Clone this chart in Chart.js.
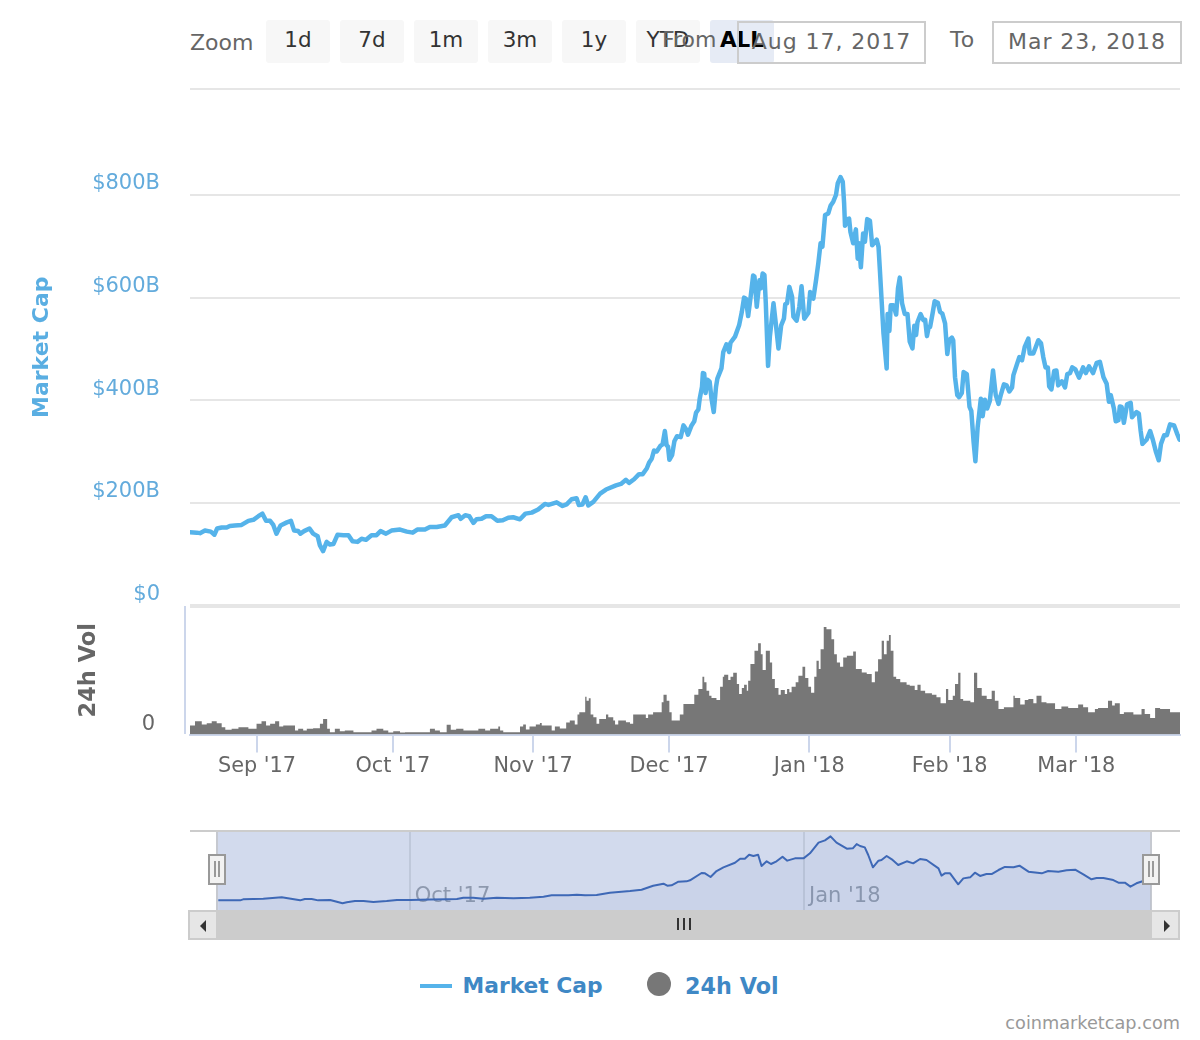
<!DOCTYPE html>
<html>
<head>
<meta charset="utf-8">
<title>Market Cap</title>
<script src="https://cdn.jsdelivr.net/npm/chart.js@4/dist/chart.umd.js"></script>
<style>
html, body { margin: 0; padding: 0; background: #fff; overflow: hidden; }
body { width: 1200px; height: 1040px; position: relative; font-family: "DejaVu Sans", sans-serif; }
canvas, .abs { position: absolute; }
.btn { top: 20px; width: 64px; height: 43px; line-height: 40px; background: #f7f7f7; border-radius: 3px; text-align: center; color: #333; font-size: 21.5px; }
.lbl { color: #666; font-size: 22px; white-space: nowrap; }
.box { top: 21px; height: 39px; border: 2px solid #ccc; line-height: 37px; color: #666; font-size: 22px; letter-spacing: 0.95px; text-align: center; }
</style>
</head>
<body>
<div class="abs lbl" style="left:190px;top:30px">Zoom</div>
<div class="abs btn" style="left:266px">1d</div>
<div class="abs btn" style="left:340px">7d</div>
<div class="abs btn" style="left:414px">1m</div>
<div class="abs btn" style="left:488px">3m</div>
<div class="abs btn" style="left:562px">1y</div>
<div class="abs btn" style="left:636px">YTD</div>
<div class="abs btn" style="left:710px;background:#e6ebf5;color:#000;font-weight:bold">ALL</div>
<div class="abs lbl" style="left:662px;top:27px">From</div>
<div class="abs box" style="left:737px;width:185px">Aug 17, 2017</div>
<div class="abs lbl" style="left:950px;top:27px;letter-spacing:1px">To</div>
<div class="abs box" style="left:992px;width:186px">Mar 23, 2018</div>

<canvas id="cap-chart" width="1200" height="540" style="left:0;top:80px"></canvas>
<div class="abs" style="left:184px;top:606px;width:2px;height:128px;background:#ccd6eb"></div>
<canvas id="vol-chart" width="1200" height="190" style="left:0;top:600px"></canvas>

<div class="abs" style="left:190px;top:830px;width:990px;height:2px;background:#ccc"></div>
<div class="abs" style="left:217px;top:832px;width:934px;height:78px;background:#d2daed"></div>
<div class="abs" style="left:216px;top:832px;width:2px;height:78px;background:#c6c9d0"></div>
<div class="abs" style="left:1150px;top:832px;width:2px;height:78px;background:#c6c9d0"></div>
<canvas id="nav-chart" width="1200" height="95" style="left:0;top:825px"></canvas>
<div class="abs" style="left:208px;top:854px;width:14px;height:27px;background:#f2f2f2;border:2px solid #999"></div>
<div class="abs" style="left:214px;top:861px;width:2px;height:16px;background:#999"></div>
<div class="abs" style="left:218px;top:861px;width:2px;height:16px;background:#999"></div>
<div class="abs" style="left:1142px;top:854px;width:14px;height:27px;background:#f2f2f2;border:2px solid #999"></div>
<div class="abs" style="left:1148px;top:861px;width:2px;height:16px;background:#999"></div>
<div class="abs" style="left:1152px;top:861px;width:2px;height:16px;background:#999"></div>

<div class="abs" style="left:188px;top:910px;width:992px;height:30px;background:#ccc"></div>
<div class="abs" style="left:190px;top:912px;width:26px;height:26px;background:#e6e6e6"></div>
<div class="abs" style="left:1152px;top:912px;width:26px;height:26px;background:#e6e6e6"></div>
<div class="abs" style="left:200px;top:920px;width:0;height:0;border-top:6px solid transparent;border-bottom:6px solid transparent;border-right:6px solid #333"></div>
<div class="abs" style="left:1164px;top:920px;width:0;height:0;border-top:6px solid transparent;border-bottom:6px solid transparent;border-left:6px solid #333"></div>
<div class="abs" style="left:677px;top:918px;width:2px;height:12px;background:#333"></div>
<div class="abs" style="left:683px;top:918px;width:2px;height:12px;background:#333"></div>
<div class="abs" style="left:689px;top:918px;width:2px;height:12px;background:#333"></div>

<div class="abs" style="left:420px;top:984px;width:32px;height:4px;background:#55b3ea"></div>
<div class="abs" style="left:462.5px;top:973px;font-size:21.8px;font-weight:bold;color:#3f88c5;white-space:nowrap">Market Cap</div>
<div class="abs" style="left:647px;top:972px;width:24px;height:24px;border-radius:12px;background:#777"></div>
<div class="abs" style="left:685px;top:973px;font-size:22.3px;font-weight:bold;color:#3f88c5;white-space:nowrap">24h Vol</div>
<div class="abs" style="right:20px;top:1013px;font-size:17.7px;color:#999;white-space:nowrap">coinmarketcap.com</div>

<script>
// days counted from Aug 17 2017, market cap in $B
var capDays = [
    0.2,1.7,2.4,3.5,4.8,5.6,6.2,7.2,8.3,9.0,
    10.1,11.6,13.1,14.2,15.3,16.2,17,17.9,18.6,19.3,
    20.2,21.6,22.5,23.2,24.1,24.6,25.4,26.6,27.4,28.4,
    28.9,29.6,30.4,31.1,31.9,32.8,34.1,35.2,36.1,37.2,
    38.1,39.1,40.3,41.4,42.3,43.5,44.7,46.6,48.1,49.4,
    50.4,52.1,53.2,54.7,56.5,58,59.5,60,61,61.9,
    62.8,63.5,64.6,65.6,66.8,68.1,69.3,70.5,71.6,73.1,
    74.3,75.7,77.1,78.6,79.4,81.2,82.5,83.4,84.5,85.6,
    86.1,86.9,87.6,88.2,89.3,90.8,92.1,94.3,95.4,96.5,
    97.2,98.3,99.4,100.2,101.1,101.6,102.2,102.7,103.3,104.1,
    104.6,105.1,105.5,105.8,106.1,106.7,107.2,107.8,108.6,109.2,
    109.7,110.2,111,111.6,112,112.5,112.8,113.3,113.5,113.8,
    114.1,114.5,115,115.4,115.9,116.4,116.7,117.6,118,118.7,
    119.3,119.6,120.6,121.5,122.1,122.6,123,123.5,124.1,124.6,
    124.9,125.4,126,126.3,126.7,127.1,127.4,127.9,128.3,129.1,
    129.6,130.2,130.8,131.4,131.7,132.1,132.6,133.2,133.5,134.2,
    134.8,135.3,135.9,136.8,137.2,137.9,138.5,139,139.5,139.9,
    140.5,141.2,141.7,142.3,142.9,143.3,143.9,144.4,144.7,144.9,
    145.4,145.8,146.1,146.7,147.3,147.7,148,148.4,148.9,149.3,
    149.8,150.4,150.9,151.9,152.3,152.6,153.4,154.1,154.3,154.7,
    155,155.6,156.2,156.6,157,157.5,158.1,158.7,159.2,159.8,
    160.2,160.6,160.9,161.6,162.2,162.6,163,163.4,163.7,164.3,
    164.7,165.4,165.9,166.4,167,167.5,167.9,168.5,168.8,169.2,
    169.7,170.1,170.7,171.1,171.8,172.4,172.8,173.3,173.7,174.2,
    174.5,174.9,175.3,175.8,176.3,176.9,177.6,178.2,178.8,179.3,
    180,180.6,181.2,181.8,182.1,182.8,183.4,184,184.6,185.4,
    185.7,186.5,187.6,188.2,188.7,189.2,189.7,190,190.5,191.1,
    191.6,192,192.8,193.5,194,194.6,195.1,195.8,196.6,197.5,
    198.1,198.8,199.7,200.5,201.2,202,202.7,203.2,203.6,204.3,
    204.7,205.3,205.6,206,206.5,207.2,208,208.3,209.3,209.8,
    210.2,210.6,211.5,212.3,212.9,213.6,214.2,214.7,215.4,216,
    216.7,217.6,218.3,218.8
];
var capValues = [
    143,142,141,146,144,138,150,152,152,155,
    156,157,165,167,174,179,165,165,157,140,
    156,162,165,146,145,140,145,150,140,135,
    117,106,124,119,120,138,137,137,125,124,
    130,128,137,137,145,140,146,148,144,142,
    148,148,153,153,156,172,176,169,176,174,
    161,168,169,174,174,165,166,171,172,168,
    179,181,187,198,196,201,194,197,207,209,
    196,197,211,195,202,218,226,234,237,245,
    239,246,256,256,267,278,286,302,300,311,
    314,340,312,310,284,293,320,330,328,351,
    345,333,351,359,376,382,403,426,453,452,
    414,440,436,403,377,426,442,462,494,509,
    494,512,524,546,572,600,598,564,605,643,
    641,582,634,618,647,644,589,467,524,589,
    550,501,546,559,587,589,621,602,563,555,
    582,622,559,570,611,598,634,667,706,699,
    761,764,779,787,800,823,835,826,784,740,
    753,754,728,706,733,676,706,659,725,709,
    753,750,702,713,699,654,530,462,568,535,
    585,585,567,618,639,589,568,568,514,501,
    545,527,552,568,556,557,525,543,543,572,
    593,590,572,569,550,490,517,522,517,445,
    410,406,414,455,451,387,379,319,281,348,
    371,403,369,401,384,399,458,410,393,410,
    431,429,417,425,449,468,484,478,504,520,
    491,491,517,511,484,464,464,427,421,457,
    458,429,437,425,451,453,464,460,444,464,
    453,466,453,473,475,445,432,397,410,384,
    359,361,388,387,356,392,395,367,377,374,
    341,315,323,340,323,299,283,315,332,332,
    353,351,334,323
];

// 24h volume in $B, each level starts at its day
var volDays = [
    0.2,1.3,2.8,3.9,5,6.1,7.2,8,9.4,10.9,
    13.1,14.9,16,17,17.9,19,19.9,20.8,23.4,24.1,
    25.2,26,27.4,28.9,29.6,30.5,31.1,32.2,33.3,34.4,
    36.3,37.4,40.3,41.4,42.9,44,45.1,46.6,47.7,53.2,
    54.3,55.4,56.9,57.8,59,60.6,63.9,65.4,66.5,68.3,
    68.7,69.4,73.1,73.8,74.4,75.2,76.6,77.5,77.9,80.1,
    80.8,81.9,83.3,84.1,85.2,85.8,86.2,87.5,87.8,88.3,
    88.7,89.3,90,90.6,92.1,92.6,93.7,94.1,94.8,96.5,
    97.4,98.1,98.7,100.9,101.4,102.5,104.4,104.8,105.5,106.1,
    106.6,108.4,109.2,111.6,112.5,113.4,113.8,114.3,114.9,115.4,
    116.5,117.3,117.9,118.2,119.1,119.6,120.2,121,121.5,122.1,
    122.6,123.2,123.5,124,124.9,125.7,126.3,126.7,127.4,128.3,
    128.8,129.4,130.2,130.7,131.6,132.1,132.6,133.1,134,134.6,
    135.5,136.1,136.8,137.4,138.1,138.6,139.1,139.5,140.2,140.8,
    141.9,142.5,143.1,143.8,144.5,145.3,146.7,147.3,148.6,149.7,
    150.8,151.5,152.2,153,153.5,154.1,154.6,155,155.6,156.2,
    157.1,158.5,159.2,160.3,160.9,161.6,162.6,164.1,165.1,166,
    167.2,167.7,168.7,169.2,169.9,170.4,171,172.6,173.4,174.1,
    175.1,176.2,177.3,178,178.8,180,182.1,182.4,183.6,184.6,
    185.4,186.5,187.2,188.3,189.4,191.3,192.7,194.2,196.4,197.5,
    198.6,200.1,200.8,203,203.9,204.5,205.6,206.5,208.6,210.4,
    211.1,212.3,213.4,214.5,216.7,217.8,218.9
];
var volValues = [
    3.4,5.4,8,6,6.8,8,6.8,4.4,2.8,3.4,
    4.4,3.4,6.4,8,5.4,6.4,8,4.8,5.4,2.4,
    3.4,2.4,3.4,3.8,6.4,9.4,3.4,1.4,3.4,2,
    2.4,1.4,1.4,2.4,3.4,2.4,1.2,2,1.2,1.4,
    3.4,2.4,1.4,5.8,2.8,3.4,2.4,3.4,2.4,3.4,
    4.8,2.4,1.4,4.8,6,3,4.8,6,7,5.4,
    2.4,4.8,3.6,7.2,8.4,6,12,13.4,22.8,20.4,
    21.8,12,10.4,6.4,9.4,12,10.4,8.4,6,8.4,
    7.4,6.4,12,12,10,12,13.4,19.4,24,20.4,
    13.4,8.4,12,18.4,24,27.4,34.8,31.4,26.4,23.4,
    22,20.8,28.8,34.8,36,32.8,34.8,37.2,30.4,24.4,
    28,30,26.4,32.4,42.4,50.4,55,48.4,38.8,50.4,
    43.4,33.4,28,24,26.8,24.4,27.4,25.4,28.8,31.4,
    35.4,40.8,34,28.8,25.2,34.8,44.4,39.4,51.4,64.8,
    63.4,57.4,48.4,43.4,40.8,46.4,47.4,50,39.4,37.4,
    36.4,31.4,38,45.4,56.4,48.4,56.4,60,50.4,34.8,
    33.4,31.4,30,29.4,26.8,30,26.4,24.8,24,22.4,
    18.8,27.4,20.8,23.4,30.4,37.2,21.4,20.4,19.4,37.2,
    28,23.4,21.4,26.4,20.4,15.4,16.4,23.4,22,18,
    20.8,21.4,18.8,23.4,19.4,18.8,15.4,16.8,16,18,
    16.4,13.4,15.4,16,20.4,17.4,18.8,12.4,13.4,12,
    15.4,12.4,10,16,15.4,13.4,13.4
];

// navigator series, coarser than the main one
var navDays = [
    0.3,5.4,6.1,10.8,15.1,19.4,20.5,22.1,23.6,26.4,
    29.3,30.3,32.2,34.2,36.5,39.6,42,45.1,49.7,53.6,
    56,57.5,59.8,62.2,65.3,69.2,73,76.2,78.1,82,
    84,85.9,88.6,91.7,96.4,99.1,101.8,104.2,105.1,106.1,
    107.7,109.6,110.4,113.1,113.9,115.2,116.6,118.2,120.9,122.1,
    123.2,124.2,125.2,126.3,127.1,128.3,129.3,130.6,132,133.1,
    134.9,136.9,138.4,140.4,141.9,143.2,144.6,147,148.4,149.3,
    150.1,151.2,152,153.1,154.4,155.1,156.3,157.5,159,161,
    162.5,164.1,165.6,168.4,169.1,169.9,171.1,173,174.2,175.8,
    176.9,178.1,179.6,180.8,182.4,183.9,185.9,187.3,189.4,192.5,
    194,196.4,198.3,200.3,202.2,204.1,205.3,206.9,209.2,210.4,
    211.9,213.2,214.6,216.2,218
];
var navValues = [
    136,136,147,154,169,136,151,151,136,140,
    104,115,129,129,118,129,140,140,144,147,
    151,165,165,154,165,158,165,176,190,190,
    197,190,194,219,237,251,294,316,294,298,
    337,341,352,431,427,388,452,492,542,585,
    585,628,614,628,506,557,528,557,607,564,
    589,589,643,758,783,826,758,693,697,743,
    722,707,625,492,564,571,614,578,517,557,
    535,582,571,481,402,427,427,309,373,384,
    434,399,420,420,463,496,492,510,445,427,
    452,445,460,467,417,363,377,377,355,327,
    327,284,320,345,363
];

var monthDays = [15, 45, 76, 106, 137, 168, 196];
var monthLabels = ["Sep '17", "Oct '17", "Nov '17", "Dec '17", "Jan '18", "Feb '18", "Mar '18"];
var navMonthDays = [45, 137];
var navMonthLabels = ["Oct '17", "Jan '18"];
var capTicks = [0, 200, 400, 600, 800, 1006.6];
var capTickLabels = ["$0", "$200B", "$400B", "$600B", "$800B", ""];
var volTicks = [0];
var volTickLabels = ["0"];

function points(xs, ys) {
    return xs.map(function (x, i) { return { x: x, y: ys[i] }; });
}
function setTicks(values) {
    return function (scale) {
        scale.ticks = values.map(function (v) { return { value: v }; });
    };
}
// fixed axis width, and no extra room for the tick labels above and below
function fitLeftAxis(scale) {
    scale.width = 190;
    scale.paddingTop = 0;
    scale.paddingBottom = 0;
}
var quiet = { legend: { display: false }, tooltip: { enabled: false } };

new Chart(document.getElementById("cap-chart").getContext('2d'), {
    type: 'line',
    data: {
        datasets: [{
            label: 'Market Cap',
            data: points(capDays, capValues),
            borderColor: '#55b3ea',
            borderWidth: 4.5,
            borderJoinStyle: 'round',
            borderCapStyle: 'round',
            pointRadius: 0,
            tension: 0
        }]
    },
    options: {
        responsive: false,
        animation: false,
        plugins: quiet,
        layout: { autoPadding: false, padding: { top: 9, bottom: 14.5, right: 20 } },
        scales: {
            x: { type: 'linear', display: false, min: 0.2, max: 218.9 },
            y: {
                min: 0,
                max: 1006.6,
                afterBuildTicks: setTicks(capTicks),
                afterFit: fitLeftAxis,
                border: { display: false },
                grid: {
                    color: '#e6e6e6',
                    drawTicks: false,
                    lineWidth: function (ctx) { return ctx.tick && ctx.tick.value === 0 ? 4 : 2; }
                },
                ticks: {
                    padding: 30,
                    labelOffset: -11,
                    color: '#63abdc',
                    font: { family: 'DejaVu Sans', size: 21 },
                    callback: function (v, i) { return capTickLabels[i]; }
                },
                title: {
                    display: true,
                    text: 'Market Cap',
                    color: '#5aaee2',
                    font: { family: 'DejaVu Sans', size: 22, weight: 'bold' },
                    padding: { top: 29, bottom: 0 }
                }
            }
        }
    }
});

new Chart(document.getElementById("vol-chart").getContext('2d'), {
    type: 'line',
    data: {
        datasets: [{
            label: '24h Vol',
            data: points(volDays, volValues),
            stepped: 'after',
            fill: 'origin',
            backgroundColor: '#777777',
            borderWidth: 0,
            pointRadius: 0
        }]
    },
    options: {
        responsive: false,
        animation: false,
        plugins: quiet,
        layout: { autoPadding: false, padding: { top: 6, right: 20 } },
        scales: {
            x: {
                type: 'linear',
                min: 0.2,
                max: 218.9,
                afterBuildTicks: setTicks(monthDays),
                afterFit: function (scale) { scale.height = 55.5; },
                border: { color: '#ccd6eb', width: 2 },
                grid: { drawOnChartArea: false, color: '#ccd6eb', lineWidth: 2, tickLength: 18 },
                ticks: {
                    padding: 2,
                    autoSkip: false,
                    maxRotation: 0,
                    color: '#666',
                    font: { family: 'DejaVu Sans', size: 20.8 },
                    callback: function (v, i) { return monthLabels[i]; }
                }
            },
            y: {
                min: 0,
                max: 77.4,
                afterBuildTicks: setTicks(volTicks),
                afterFit: fitLeftAxis,
                border: { display: false },
                grid: { display: false, drawTicks: false },
                ticks: {
                    padding: 35,
                    labelOffset: -10,
                    color: '#666',
                    font: { family: 'DejaVu Sans', size: 21 },
                    callback: function (v, i) { return volTickLabels[i]; }
                },
                title: {
                    display: true,
                    text: '24h Vol',
                    color: '#666',
                    font: { family: 'DejaVu Sans', size: 22.5, weight: 'bold' },
                    padding: { top: 76, bottom: 0 }
                }
            }
        }
    }
});

new Chart(document.getElementById("nav-chart").getContext('2d'), {
    type: 'line',
    data: {
        datasets: [{
            label: 'Navigator',
            data: points(navDays, navValues),
            borderColor: '#3e68b6',
            borderWidth: 2,
            borderJoinStyle: 'round',
            fill: 'origin',
            backgroundColor: 'rgba(51, 92, 173, 0.05)',
            pointRadius: 0,
            tension: 0
        }]
    },
    options: {
        responsive: false,
        animation: false,
        plugins: quiet,
        layout: { autoPadding: false, padding: { top: 7, left: 217, right: 49 } },
        scales: {
            x: {
                type: 'linear',
                min: 0,
                max: 218,
                afterBuildTicks: setTicks(navMonthDays),
                afterFit: function (scale) { scale.height = 10; },
                border: { display: false },
                grid: { color: '#bfc8da', lineWidth: 2, drawTicks: false },
                ticks: {
                    mirror: true,
                    padding: 1,
                    align: 'start',
                    labelOffset: 5,
                    autoSkip: false,
                    maxRotation: 0,
                    color: '#8e99ae',
                    font: { family: 'DejaVu Sans', size: 21 },
                    callback: function (v, i) { return navMonthLabels[i]; }
                }
            },
            y: { display: false, min: 32, max: 873 }
        }
    }
});
</script>
</body>
</html>
